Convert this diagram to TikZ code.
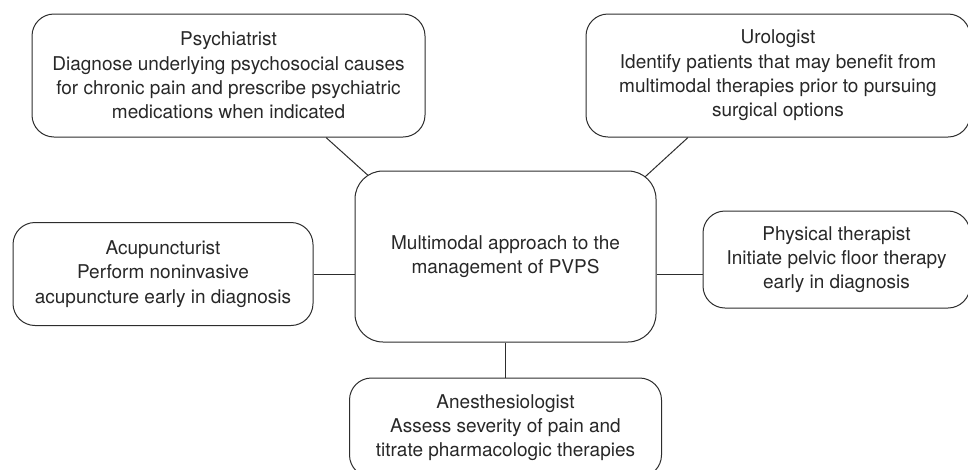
\documentclass[tikz,border=0pt]{standalone}
\usepackage{fontspec}
\setmainfont{TeX Gyre Heros}
\usepackage{tikz}
\usetikzlibrary{positioning, calc, backgrounds}
\definecolor{boxline}{RGB}{45,45,45}
\definecolor{boxtext}{RGB}{40,40,40}
\tikzset{
  role/.style={
    rectangle, rounded corners=22pt, draw=boxline, line width=1pt,
    fill=white, align=center, inner sep=0pt, text=boxtext,
    font=\fontsize{19}{24.3}\selectfont
  },
  hubbox/.style={role, rounded corners=28pt},
  link/.style={draw=boxline, line width=1pt}
}

\begin{document}
\begin{tikzpicture}[x=1pt, y=-1pt]
  \clip (0,0) rectangle (968,469);
  \useasboundingbox (0,0) rectangle (968,469);

  \node[hubbox, minimum width=301pt, minimum height=171pt] (hub) at (505.5,256.5)
    {Multimodal approach to the\\management of PVPS};
  \node[role, minimum width=393pt, minimum height=123pt] (psych) at (228.5,75.5)
    {Psychiatrist\\Diagnose underlying psychosocial causes\\for chronic pain and prescribe psychiatric\\medications when indicated};
  \node[role, minimum width=384pt, minimum height=123pt] (uro) at (778,75.5)
    {Urologist\\Identify patients that may benefit from\\multimodal therapies prior to pursuing\\surgical options};
  \node[role, minimum width=300pt, minimum height=103pt] (acup) at (163,274)
    {Acupuncturist\\Perform noninvasive\\acupuncture early in diagnosis};
  \node[role, minimum width=267pt, minimum height=97pt] (phys) at (836.5,259.5)
    {Physical therapist\\Initiate pelvic floor therapy\\early in diagnosis};
  \node[role, minimum width=312pt, minimum height=99pt, below=35pt of hub] (anest)
    {Anesthesiologist\\Assess severity of pain and\\titrate pharmacologic therapies};

  % connectors sit behind the boxes
  \begin{scope}[on background layer]
    \draw[link] ($(psych.south)+(97.5,0)$) -- ($(hub.north west)+(37,26)$);
    \draw[link] ($(uro.south)+(-90,0)$) -- ($(hub.north east)+(-34,27)$);
    \draw[link] (acup.east) -- (acup.east -| hub.west);
    \draw[link] (hub.east |- acup.east) -- (phys.west |- acup.east);
    \draw[link] (hub.south) -- (anest.north);
  \end{scope}
\end{tikzpicture}
\end{document}
